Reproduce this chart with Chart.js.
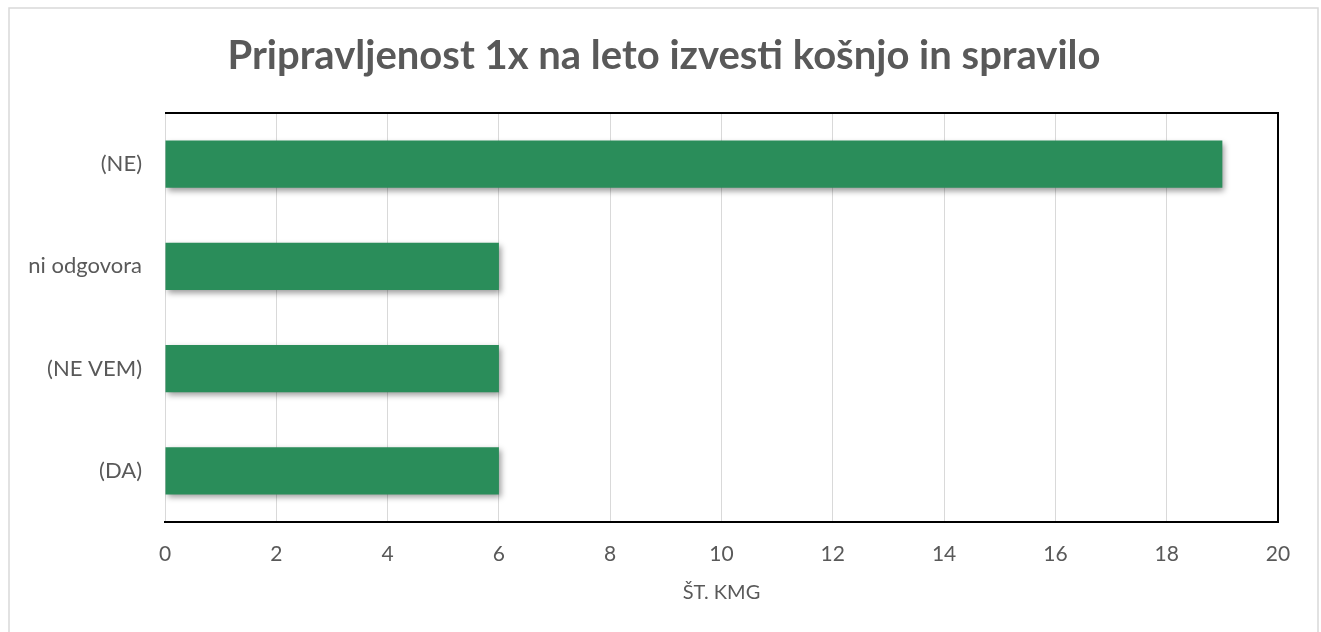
<!DOCTYPE html>
<html>
<head>
<meta charset="utf-8">
<script src="https://cdn.jsdelivr.net/npm/chart.js@4"></script>
<style>
  html, body { margin: 0; padding: 0; background: #fff; }
</style>
</head>
<body>
<canvas id="chart" width="1321" height="632"></canvas>
<script>
const categories = ["(NE)", "ni odgovora", "(NE VEM)", "(DA)"];
const counts = [19, 6, 6, 6];
const xTicks = [0, 2, 4, 6, 8, 10, 12, 14, 16, 18, 20];
const chartTitle = "Pripravljenost 1x na leto izvesti košnjo in spravilo";

const textColor = "#595959";
const fontFamily = "Lato, sans-serif";

// outer frame, centered title, bar shadows and the black plot border (top + right)
const framePlugin = {
  id: "frame",
  beforeDraw(chart) {
    const ctx = chart.ctx;
    ctx.save();
    ctx.fillStyle = "#fff";
    ctx.fillRect(0, 0, chart.width, chart.height);
    ctx.strokeStyle = "#d9d9d9";
    ctx.lineWidth = 1.5;
    ctx.strokeRect(9, 8, 1309, 640);
    ctx.fillStyle = textColor;
    ctx.font = "bold 40px " + fontFamily;
    ctx.textAlign = "center";
    ctx.textBaseline = "alphabetic";
    ctx.fillText(chartTitle, 664, 69);
    ctx.restore();
  },
  beforeDatasetsDraw(chart) {
    const ctx = chart.ctx;
    ctx.save();
    ctx.shadowColor = "rgba(0,0,0,0.4)";
    ctx.shadowBlur = 6;
    ctx.shadowOffsetX = 2;
    ctx.shadowOffsetY = 3;
  },
  afterDatasetsDraw(chart) {
    chart.ctx.restore();
    const { ctx, chartArea: a } = chart;
    ctx.save();
    ctx.strokeStyle = "#000";
    ctx.lineWidth = 2;
    ctx.beginPath();
    ctx.moveTo(a.left, a.top);
    ctx.lineTo(a.right, a.top);
    ctx.lineTo(a.right, a.bottom);
    ctx.stroke();
    ctx.restore();
  }
};

new Chart(document.getElementById("chart").getContext("2d"), {
  type: "bar",
  data: {
    labels: categories,
    datasets: [
      {
        data: counts,
        backgroundColor: "rgb(42,141,90)",
        borderWidth: 0,
        barPercentage: 0.46,
        categoryPercentage: 1
      }
    ]
  },
  options: {
    indexAxis: "y",
    responsive: false,
    animation: false,
    layout: { padding: { left: 0, right: 43, top: 113, bottom: 0 } },
    plugins: {
      legend: { display: false },
      tooltip: { enabled: false },
      title: { display: false }
    },
    scales: {
      x: {
        min: 0,
        max: 20,
        afterBuildTicks(scale) {
          scale.ticks = xTicks.map(v => ({ value: v }));
        },
        afterFit(scale) { scale.height = 110; },
        grid: { color: "#d9d9d9", lineWidth: 1, drawTicks: false },
        border: { display: true, color: "#000", width: 2 },
        ticks: { color: textColor, padding: 20, font: { family: fontFamily, size: 21 } },
        title: {
          display: true,
          text: "ŠT. KMG",
          color: textColor,
          font: { family: fontFamily, size: 20 },
          padding: { top: 0, bottom: 27 }
        }
      },
      y: {
        afterFit(scale) { scale.width = 165; },
        grid: { display: false, drawTicks: false },
        border: { display: false },
        ticks: { color: textColor, padding: 23, font: { family: fontFamily, size: 22 } }
      }
    }
  },
  plugins: [framePlugin]
});
</script>
</body>
</html>
